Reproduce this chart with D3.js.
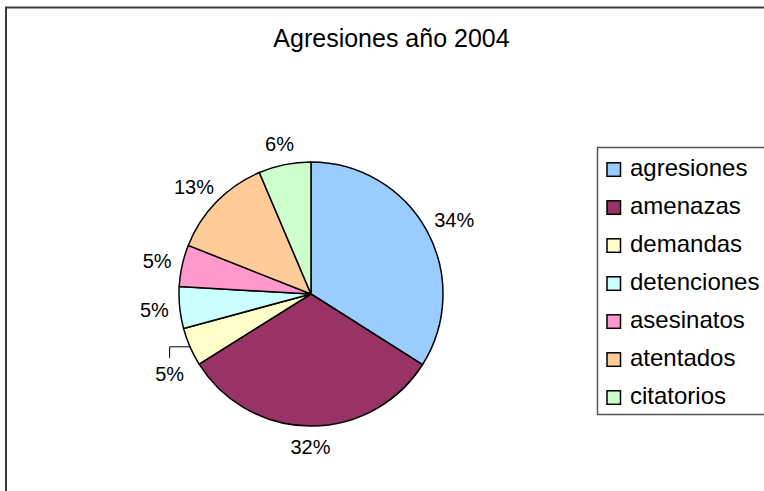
<!DOCTYPE html>
<html>
<head>
<meta charset="utf-8">
<script src="https://cdn.jsdelivr.net/npm/d3@7"></script>
<style>
  html, body { margin: 0; padding: 0; background: #fff; }
  svg { display: block; }
  text { font-family: "Liberation Sans", Arial, sans-serif; fill: #000; }
</style>
</head>
<body>
<svg id="chart" width="764" height="491"></svg>
<script>
// ---- data ----
const title = "Agresiones año 2004";
const categories = ["agresiones", "amenazas", "demandas", "detenciones", "asesinatos", "atentados", "citatorios"];
const values = [34.0, 32.1, 4.7, 5.1, 5.1, 12.6, 6.4];
const colors = ["#99CCFF", "#993366", "#FFFFCC", "#CCFFFF", "#FF99CC", "#FFCC99", "#CCFFCC"];

// ---- layout ----
const W = 764, H = 491;
const cx = 311, cy = 294, r = 132;
const labelFont = 20, legendFont = 24, titleFont = 25;
const labelGap = 11;
const nudge = { "demandas": [3, 19] }; // label moved away from crowded edge, with leader line

const svg = d3.select("#chart");

// outer chart area border
svg.append("rect")
  .attr("x", 6).attr("y", 7.5).attr("width", 900).attr("height", 600)
  .attr("fill", "#fff").attr("stroke", "#3a3a3a").attr("stroke-width", 2);

// title
svg.append("text")
  .attr("x", 391.5).attr("y", 47)
  .attr("text-anchor", "middle")
  .style("font-size", titleFont + "px")
  .text(title);

const data = categories.map((c, i) => ({ name: c, value: values[i], color: colors[i] }));
const total = d3.sum(values);

const pie = d3.pie().value(d => d.value).sort(null).startAngle(0).endAngle(2 * Math.PI);
const arcs = pie(data);
const arc = d3.arc().innerRadius(0).outerRadius(r);

const g = svg.append("g").attr("transform", `translate(${cx},${cy})`);
g.selectAll("path.slice")
  .data(arcs)
  .join("path")
  .attr("class", "slice")
  .attr("d", arc)
  .attr("fill", d => d.data.color)
  .attr("stroke", "#000")
  .attr("stroke-width", 1.5)
  .attr("stroke-linejoin", "round");

// labels
const fmt = v => Math.round(v / total * 100) + "%";
arcs.forEach(d => {
  const mid = (d.startAngle + d.endAngle) / 2;
  const s = Math.sin(mid), c = Math.cos(mid);
  const txt = fmt(d.data.value);
  const w = txt.length === 2 ? 29 : 41;
  const px = (r + labelGap) * s, py = -(r + labelGap) * c;
  let lx = px + s * w / 2, ly = py - c * 10;
  const n = nudge[d.data.name];
  if (n) {
    lx += n[0]; ly += n[1];
    const ex = r * s, ey = -r * c;
    const topY = ly - 16;
    g.append("path")
      .attr("d", `M${ex},${ey}H${lx}V${topY}`)
      .attr("fill", "none").attr("stroke", "#000").attr("stroke-width", 1);
  }
  g.append("text")
    .attr("x", lx).attr("y", ly + 0.358 * labelFont)
    .attr("text-anchor", "middle")
    .style("font-size", labelFont + "px")
    .text(txt);
});

// legend
const lg = svg.append("g");
lg.append("rect")
  .attr("x", 597.5).attr("y", 147.5).attr("width", 300).attr("height", 267)
  .attr("fill", "#fff").attr("stroke", "#555").attr("stroke-width", 1.5);
const row = d3.scalePoint().domain(categories).range([169.3, 397.3]);
const items = lg.selectAll("g.item").data(data).join("g").attr("class", "item")
  .attr("transform", d => `translate(0,${row(d.name)})`);
items.append("rect")
  .attr("x", 607).attr("y", -6.5).attr("width", 13.5).attr("height", 13.5)
  .attr("fill", d => d.color).attr("stroke", "#000").attr("stroke-width", 1.5);
items.append("text")
  .attr("x", 630).attr("y", 7)
  .style("font-size", legendFont + "px")
  .text(d => d.name);
</script>
</body>
</html>
